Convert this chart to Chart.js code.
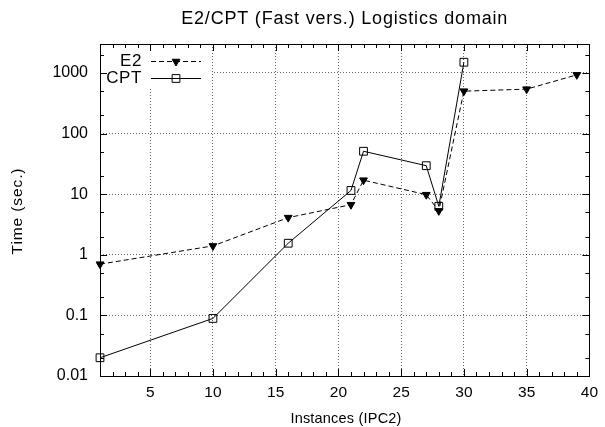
<!DOCTYPE html>
<html>
<head>
<meta charset="utf-8">
<script src="https://cdn.jsdelivr.net/npm/chart.js@4.4.0/dist/chart.umd.min.js"></script>
<style>
body { margin: 0; background: #fff; }
</style>
</head>
<body>
<canvas id="myChart" width="605" height="427"></canvas>
<script>
var e2Instances = [1, 10, 16, 21, 22, 27, 28, 30, 35, 39];
var e2Time = [0.7, 1.4, 4.1, 6.7, 17, 9.8, 5.3, 500, 540, 930];
var cptInstances = [1, 10, 16, 21, 22, 27, 28, 30];
var cptTime = [0.02, 0.089, 1.55, 11.5, 51, 29.5, 6.3, 1500];
var xTicks = [5, 10, 15, 20, 25, 30, 35, 40];
var yTicks = [0.01, 0.1, 1, 10, 100, 1000];
var yTickLabels = ['0.01', '0.1', '1', '10', '100', '1000'];

var FONT = "'Liberation Sans', Arial, Helvetica, sans-serif";

function toPoints(xs, ys) {
    return xs.map(function (x, i) { return { x: x, y: ys[i] }; });
}

// gnuplot-like frame: inward ticks, border, legend box, titles
var gnuplotFrame = {
    id: 'gnuplotFrame',
    beforeDatasetsDraw: function (chart) {
        var ctx = chart.ctx, a = chart.chartArea;
        ctx.save();
        ctx.fillStyle = '#fff';
        ctx.fillRect(a.left + 1, a.top + 1, 111, 42);
        ctx.restore();
    },
    afterDatasetsDraw: function (chart) {
        var ctx = chart.ctx, a = chart.chartArea;
        var xs = chart.scales.x, ys = chart.scales.y;
        ctx.save();
        ctx.strokeStyle = '#000';
        ctx.lineWidth = 1;
        ctx.setLineDash([]);
        ctx.beginPath();
        for (var i = 2; i <= 39; i++) {
            var len = i % 5 === 0 ? 7 : 4;
            var px = Math.round(xs.getPixelForValue(i)) + 0.5;
            ctx.moveTo(px, a.bottom); ctx.lineTo(px, a.bottom - len);
            ctx.moveTo(px, a.top); ctx.lineTo(px, a.top + len);
        }
        for (var e = -2; e <= 3; e++) {
            [1, 2, 5].forEach(function (m) {
                var v = m * Math.pow(10, e);
                if (v <= ys.min || v >= ys.max) return;
                var l = m === 1 ? 7 : 4;
                var py = Math.round(ys.getPixelForValue(v)) + 0.5;
                ctx.moveTo(a.left, py); ctx.lineTo(a.left + l, py);
                ctx.moveTo(a.right, py); ctx.lineTo(a.right - l, py);
            });
        }
        ctx.stroke();
        ctx.strokeRect(Math.round(a.left) + 0.5, Math.round(a.top) + 0.5,
            Math.round(a.right - a.left), Math.round(a.bottom - a.top));

        // legend
        ctx.font = '17px ' + FONT;
        ctx.letterSpacing = '0.6px';
        ctx.fillStyle = '#000';
        ctx.textAlign = 'right';
        ctx.textBaseline = 'middle';
        ctx.fillText('E2', 142, 61);
        ctx.fillText('CPT', 142, 78);
        ctx.letterSpacing = '0px';

        ctx.beginPath();
        ctx.setLineDash([5, 3]);
        ctx.moveTo(151, 61.5); ctx.lineTo(201, 61.5);
        ctx.stroke();
        ctx.setLineDash([]);
        Chart.helpers.drawPoint(ctx, { pointStyle: 'triangle', rotation: 180, radius: 4.5, borderWidth: 1 }, 176, 61.5);

        ctx.beginPath();
        ctx.moveTo(151, 78.5); ctx.lineTo(201, 78.5);
        ctx.stroke();
        ctx.fillStyle = 'rgba(0,0,0,0)';
        Chart.helpers.drawPoint(ctx, { pointStyle: 'rect', radius: 5.5, borderWidth: 1 }, 176, 78.5);
        ctx.restore();
    },
    afterDraw: function (chart) {
        var ctx = chart.ctx, a = chart.chartArea;
        ctx.save();
        ctx.fillStyle = '#000';
        ctx.textAlign = 'center';
        ctx.textBaseline = 'middle';

        ctx.font = '18px ' + FONT;
        ctx.letterSpacing = '0.8px';
        ctx.fillText('E2/CPT (Fast vers.) Logistics domain', (a.left + a.right) / 2, 19);

        ctx.font = '14.5px ' + FONT;
        ctx.letterSpacing = '0.2px';
        ctx.fillText('Instances (IPC2)', 346, 419);

        ctx.font = '15.5px ' + FONT;
        ctx.letterSpacing = '0.9px';
        ctx.translate(18, 211);
        ctx.rotate(-Math.PI / 2);
        ctx.fillText('Time (sec.)', 0, 0);
        ctx.restore();
    }
};

var ctx = document.getElementById('myChart').getContext('2d');

var myChart = new Chart(ctx, {
    type: 'line',
    data: {
        datasets: [{
            label: 'E2',
            data: toPoints(e2Instances, e2Time),
            borderColor: '#000',
            borderWidth: 1,
            borderDash: [5, 3],
            pointStyle: 'triangle',
            pointRotation: 180,
            pointRadius: 4.5,
            pointBackgroundColor: '#000',
            pointBorderColor: '#000',
            pointBorderWidth: 1,
            clip: false
        }, {
            label: 'CPT',
            data: toPoints(cptInstances, cptTime),
            borderColor: '#000',
            borderWidth: 1,
            pointStyle: 'rect',
            pointRadius: 5.5,
            pointBackgroundColor: 'rgba(0,0,0,0)',
            pointBorderColor: '#000',
            pointBorderWidth: 1,
            clip: false
        }]
    },
    options: {
        responsive: false,
        animation: false,
        events: [],
        layout: { padding: { left: 0, top: 44, right: 11, bottom: 0 } },
        plugins: {
            legend: { display: false },
            title: { display: false },
            tooltip: { enabled: false }
        },
        scales: {
            x: {
                type: 'linear',
                min: 1,
                max: 40,
                afterBuildTicks: function (scale) {
                    scale.ticks = xTicks.map(function (v) { return { value: v }; });
                },
                afterFit: function (scale) { scale.height = 51; },
                grid: { color: 'rgba(0,0,0,0.6)', drawTicks: false },
                border: { display: false, dash: [1, 2] },
                ticks: {
                    padding: 7,
                    color: '#000',
                    font: { family: FONT, size: 15.5 },
                    maxRotation: 0,
                    autoSkip: false
                }
            },
            y: {
                type: 'logarithmic',
                min: 0.01,
                max: 3000,
                afterBuildTicks: function (scale) {
                    scale.ticks = yTicks.map(function (v) { return { value: v }; });
                },
                afterFit: function (scale) { scale.width = 100; },
                grid: { color: 'rgba(0,0,0,0.6)', drawTicks: false },
                border: { display: false, dash: [1, 2] },
                ticks: {
                    padding: 12,
                    color: '#000',
                    font: { family: FONT, size: 16 },
                    autoSkip: false,
                    callback: function (value, index) { return yTickLabels[index]; }
                }
            }
        }
    },
    plugins: [gnuplotFrame]
});
</script>
</body>
</html>
